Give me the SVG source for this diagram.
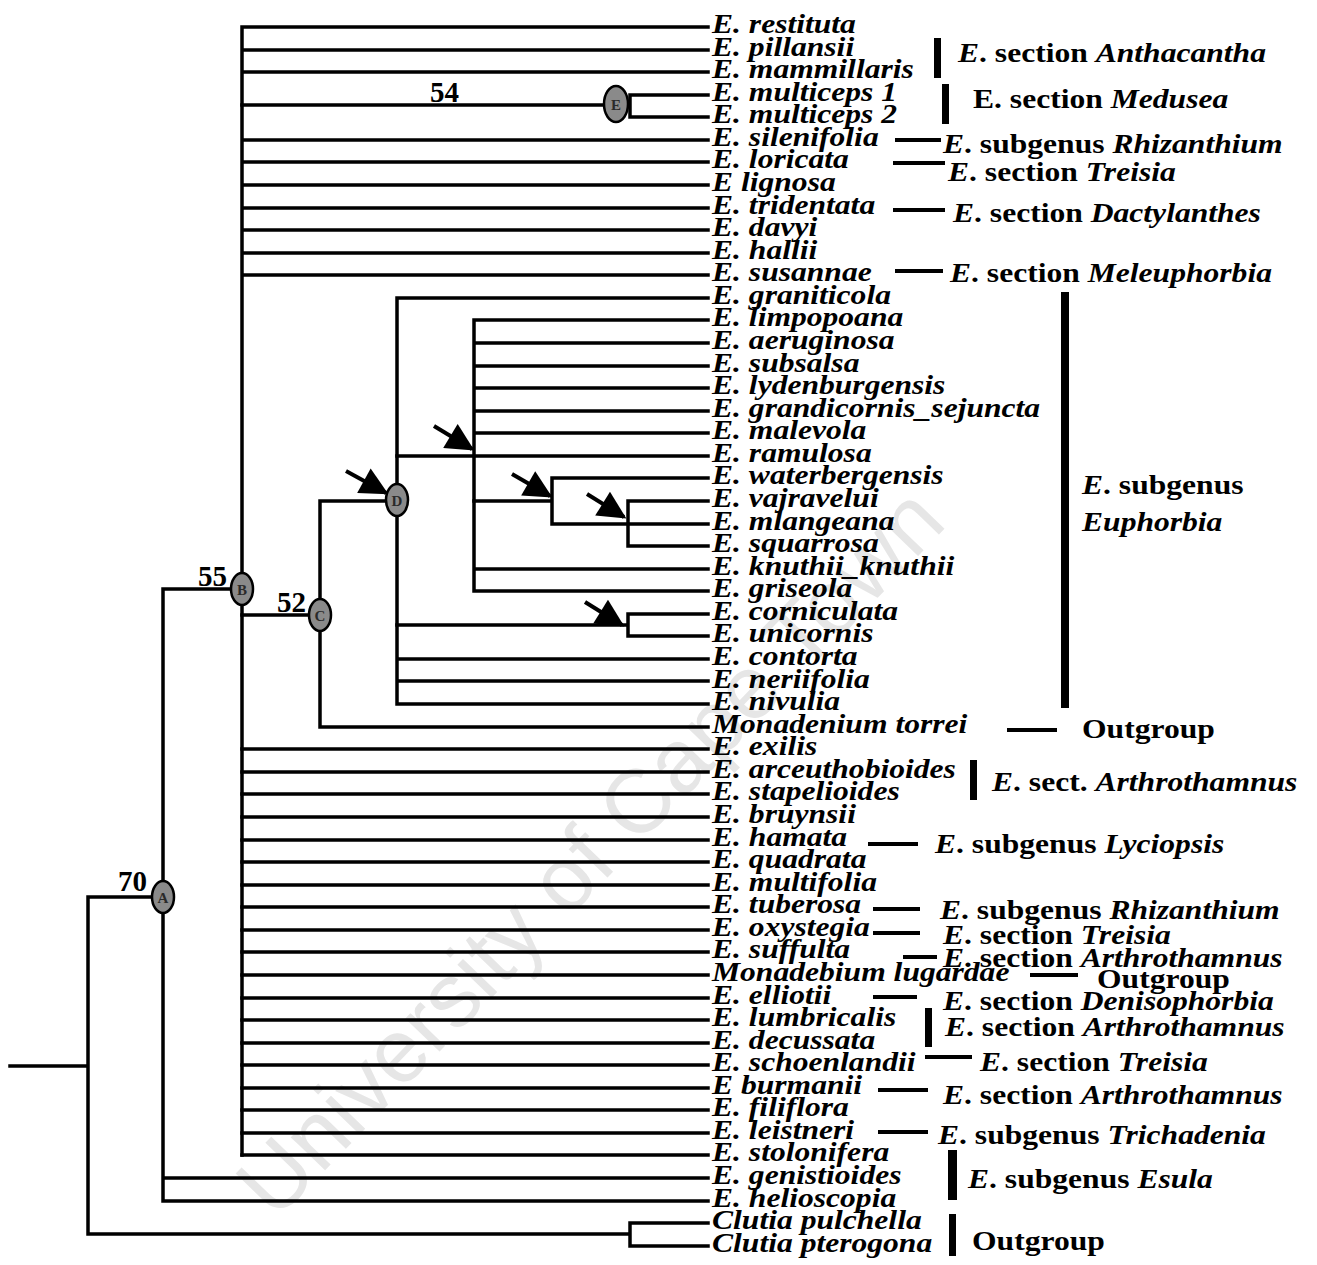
<svg xmlns="http://www.w3.org/2000/svg" width="1317" height="1265" viewBox="0 0 1317 1265">
<style>
.ln{stroke:#000;stroke-width:3.5;fill:none;stroke-linecap:square}
.ar{stroke:#000;stroke-width:4;fill:none}
.br{fill:#000}
.leaf{font-family:"Liberation Serif","Times New Roman",serif;font-weight:bold;font-style:italic;font-size:27px;fill:#000}
.ann{font-family:"Liberation Serif","Times New Roman",serif;font-weight:bold;font-size:27px;fill:#000}
.it{font-style:italic}
.num{font-family:"Liberation Serif","Times New Roman",serif;font-weight:bold;font-size:29px;fill:#000}
.nd{fill:#8a8a8a;stroke:#000;stroke-width:2.5}
.ndl{font-family:"Liberation Serif",serif;font-weight:bold;font-size:15px;fill:#2a2a2a;text-anchor:middle}
.wm{font-family:"Liberation Sans",Arial,sans-serif;font-size:90px;fill:#e6e6e6;text-anchor:middle}
</style>
<defs>
<marker id="ah" viewBox="0 0 10 10" refX="9" refY="5" markerUnits="userSpaceOnUse" markerWidth="30" markerHeight="28" orient="auto">
<path d="M0,0 L10,5 L0,10 z" fill="#000"/>
</marker>
</defs>
<rect width="1317" height="1265" fill="#fff"/>
<text class="wm" transform="translate(612,873) rotate(-46)">University of Cape Town</text>

<g id="connectors">
<path class="ln" d="M10,1066 H88 M88,897 V1234 M88,897 H163 M88,1234 H630 M630,1223 V1246 M630,1223 H708 M630,1246 H708"/>
<path class="ln" d="M163,589 V1201 M163,589 H242 M163,1178 H708 M163,1201 H708"/>
<path class="ln" d="M242,27 V1155 M242,27 H708 M242,50 H708 M242,72 H708 M242,140 H708 M242,162 H708 M242,185 H708 M242,208 H708 M242,230 H708 M242,253 H708 M242,275 H708"/>
<path class="ln" d="M242,105 H617 M617,105 H630 M630,95 V117 M630,95 H708 M630,117 H708"/>
<path class="ln" d="M242,749 H708 M242,772 H708 M242,794 H708 M242,817 H708 M242,840 H708 M242,862 H708 M242,885 H708 M242,907 H708 M242,930 H708 M242,952 H708 M242,975 H708 M242,998 H708 M242,1020 H708 M242,1043 H708 M242,1065 H708 M242,1088 H708 M242,1110 H708 M242,1133 H708 M242,1155 H708"/>
<path class="ln" d="M242,615 H320 M320,501 V727 M320,727 H708 M320,501 H397"/>
<path class="ln" d="M397,298 V704 M397,298 H708 M397,659 H708 M397,681 H708 M397,704 H708"/>
<path class="ln" d="M397,456 H474 M474,320 V591 M474,320 H708 M474,343 H708 M474,366 H708 M474,388 H708 M474,411 H708 M474,433 H708 M474,456 H708 M474,569 H708 M474,591 H708"/>
<path class="ln" d="M474,501 H552 M552,478 V524 M552,478 H708 M552,524 H708 M628,501 V546 M628,501 H708 M628,546 H708"/>
<path class="ln" d="M397,625 H628 M628,614 V636 M628,614 H708 M628,636 H708"/>
</g>

<g id="arrows">
<line class="ar" x1="346" y1="471" x2="386" y2="493" marker-end="url(#ah)"/>
<line class="ar" x1="434" y1="426" x2="472" y2="449" marker-end="url(#ah)"/>
<line class="ar" x1="512" y1="474" x2="550" y2="496" marker-end="url(#ah)"/>
<line class="ar" x1="587" y1="494" x2="624" y2="517" marker-end="url(#ah)"/>
<line class="ar" x1="585" y1="602" x2="622" y2="625" marker-end="url(#ah)"/>
</g>

<g id="node-A"><ellipse class="nd" cx="163" cy="897" rx="11" ry="16"/><text class="ndl" x="163" y="903">A</text><text class="num" x="147" y="891" text-anchor="end">70</text></g>
<g id="node-B"><ellipse class="nd" cx="242" cy="589" rx="11" ry="16"/><text class="ndl" x="242" y="595">B</text><text class="num" x="227" y="586" text-anchor="end">55</text></g>
<g id="node-C"><ellipse class="nd" cx="320" cy="615" rx="11" ry="16"/><text class="ndl" x="320" y="621">C</text><text class="num" x="306" y="612" text-anchor="end">52</text></g>
<g id="node-D"><ellipse class="nd" cx="397" cy="500" rx="11" ry="16"/><text class="ndl" x="397" y="506">D</text></g>
<g id="node-E"><ellipse class="nd" cx="616" cy="104" rx="12" ry="18"/><text class="ndl" x="616" y="110">E</text><text class="num" x="430" y="102">54</text></g>

<g id="leaves">
<g id="leaf-restituta"><text class="leaf" transform="translate(712,33) scale(1.17,1)">E. restituta</text></g>
<g id="leaf-pillansii"><text class="leaf" transform="translate(712,56) scale(1.17,1)">E. pillansii</text></g>
<g id="leaf-mammillaris"><text class="leaf" transform="translate(712,78) scale(1.17,1)">E. mammillaris</text></g>
<g id="leaf-multiceps1"><text class="leaf" transform="translate(712,101) scale(1.17,1)">E. multiceps 1</text></g>
<g id="leaf-multiceps2"><text class="leaf" transform="translate(712,123) scale(1.17,1)">E. multiceps 2</text></g>
<g id="leaf-silenifolia"><text class="leaf" transform="translate(712,146) scale(1.17,1)">E. silenifolia</text></g>
<g id="leaf-loricata"><text class="leaf" transform="translate(712,168) scale(1.17,1)">E. loricata</text></g>
<g id="leaf-lignosa"><text class="leaf" transform="translate(712,191) scale(1.17,1)">E lignosa</text></g>
<g id="leaf-tridentata"><text class="leaf" transform="translate(712,214) scale(1.17,1)">E. tridentata</text></g>
<g id="leaf-davyi"><text class="leaf" transform="translate(712,236) scale(1.17,1)">E. davyi</text></g>
<g id="leaf-hallii"><text class="leaf" transform="translate(712,259) scale(1.17,1)">E. hallii</text></g>
<g id="leaf-susannae"><text class="leaf" transform="translate(712,281) scale(1.17,1)">E. susannae</text></g>
<g id="leaf-graniticola"><text class="leaf" transform="translate(712,304) scale(1.17,1)">E. graniticola</text></g>
<g id="leaf-limpopoana"><text class="leaf" transform="translate(712,326) scale(1.17,1)">E. limpopoana</text></g>
<g id="leaf-aeruginosa"><text class="leaf" transform="translate(712,349) scale(1.17,1)">E. aeruginosa</text></g>
<g id="leaf-subsalsa"><text class="leaf" transform="translate(712,372) scale(1.17,1)">E. subsalsa</text></g>
<g id="leaf-lydenburgensis"><text class="leaf" transform="translate(712,394) scale(1.17,1)">E. lydenburgensis</text></g>
<g id="leaf-grandicornis"><text class="leaf" transform="translate(712,417) scale(1.17,1)">E. grandicornis_sejuncta</text></g>
<g id="leaf-malevola"><text class="leaf" transform="translate(712,439) scale(1.17,1)">E. malevola</text></g>
<g id="leaf-ramulosa"><text class="leaf" transform="translate(712,462) scale(1.17,1)">E. ramulosa</text></g>
<g id="leaf-waterbergensis"><text class="leaf" transform="translate(712,484) scale(1.17,1)">E. waterbergensis</text></g>
<g id="leaf-vajravelui"><text class="leaf" transform="translate(712,507) scale(1.17,1)">E. vajravelui</text></g>
<g id="leaf-mlangeana"><text class="leaf" transform="translate(712,530) scale(1.17,1)">E. mlangeana</text></g>
<g id="leaf-squarrosa"><text class="leaf" transform="translate(712,552) scale(1.17,1)">E. squarrosa</text></g>
<g id="leaf-knuthii"><text class="leaf" transform="translate(712,575) scale(1.17,1)">E. knuthii_knuthii</text></g>
<g id="leaf-griseola"><text class="leaf" transform="translate(712,597) scale(1.17,1)">E. griseola</text></g>
<g id="leaf-corniculata"><text class="leaf" transform="translate(712,620) scale(1.17,1)">E. corniculata</text></g>
<g id="leaf-unicornis"><text class="leaf" transform="translate(712,642) scale(1.17,1)">E. unicornis</text></g>
<g id="leaf-contorta"><text class="leaf" transform="translate(712,665) scale(1.17,1)">E. contorta</text></g>
<g id="leaf-neriifolia"><text class="leaf" transform="translate(712,688) scale(1.17,1)">E. neriifolia</text></g>
<g id="leaf-nivulia"><text class="leaf" transform="translate(712,710) scale(1.17,1)">E. nivulia</text></g>
<g id="leaf-monadenium-torrei"><text class="leaf" transform="translate(712,733) scale(1.17,1)">Monadenium torrei</text></g>
<g id="leaf-exilis"><text class="leaf" transform="translate(712,755) scale(1.17,1)">E. exilis</text></g>
<g id="leaf-arceuthobioides"><text class="leaf" transform="translate(712,778) scale(1.17,1)">E. arceuthobioides</text></g>
<g id="leaf-stapelioides"><text class="leaf" transform="translate(712,800) scale(1.17,1)">E. stapelioides</text></g>
<g id="leaf-bruynsii"><text class="leaf" transform="translate(712,823) scale(1.17,1)">E. bruynsii</text></g>
<g id="leaf-hamata"><text class="leaf" transform="translate(712,846) scale(1.17,1)">E. hamata</text></g>
<g id="leaf-quadrata"><text class="leaf" transform="translate(712,868) scale(1.17,1)">E. quadrata</text></g>
<g id="leaf-multifolia"><text class="leaf" transform="translate(712,891) scale(1.17,1)">E. multifolia</text></g>
<g id="leaf-tuberosa"><text class="leaf" transform="translate(712,913) scale(1.17,1)">E. tuberosa</text></g>
<g id="leaf-oxystegia"><text class="leaf" transform="translate(712,936) scale(1.17,1)">E. oxystegia</text></g>
<g id="leaf-suffulta"><text class="leaf" transform="translate(712,958) scale(1.17,1)">E. suffulta</text></g>
<g id="leaf-monadebium-lugardae"><text class="leaf" transform="translate(712,981) scale(1.17,1)">Monadebium lugardae</text></g>
<g id="leaf-elliotii"><text class="leaf" transform="translate(712,1004) scale(1.17,1)">E. elliotii</text></g>
<g id="leaf-lumbricalis"><text class="leaf" transform="translate(712,1026) scale(1.17,1)">E. lumbricalis</text></g>
<g id="leaf-decussata"><text class="leaf" transform="translate(712,1049) scale(1.17,1)">E. decussata</text></g>
<g id="leaf-schoenlandii"><text class="leaf" transform="translate(712,1071) scale(1.17,1)">E. schoenlandii</text></g>
<g id="leaf-burmanii"><text class="leaf" transform="translate(712,1094) scale(1.17,1)">E burmanii</text></g>
<g id="leaf-filiflora"><text class="leaf" transform="translate(712,1116) scale(1.17,1)">E. filiflora</text></g>
<g id="leaf-leistneri"><text class="leaf" transform="translate(712,1139) scale(1.17,1)">E. leistneri</text></g>
<g id="leaf-stolonifera"><text class="leaf" transform="translate(712,1161) scale(1.17,1)">E. stolonifera</text></g>
<g id="leaf-genistioides"><text class="leaf" transform="translate(712,1184) scale(1.17,1)">E. genistioides</text></g>
<g id="leaf-helioscopia"><text class="leaf" transform="translate(712,1207) scale(1.17,1)">E. helioscopia</text></g>
<g id="leaf-clutia-pulchella"><text class="leaf" transform="translate(712,1229) scale(1.17,1)">Clutia pulchella</text></g>
<g id="leaf-clutia-pterogona"><text class="leaf" transform="translate(712,1252) scale(1.17,1)">Clutia pterogona</text></g>
</g>

<g id="annotations">
<rect class="br" x="934" y="38" width="7" height="40"/>
<text class="ann" transform="translate(958,62) scale(1.17,1)"><tspan class="it">E</tspan>. section <tspan class="it">Anthacantha</tspan></text>
<rect class="br" x="942" y="84" width="7" height="40"/>
<text class="ann" transform="translate(973,108) scale(1.17,1)">E. section <tspan class="it">Medusea</tspan></text>
<rect class="br" x="895" y="138" width="46" height="4"/>
<text class="ann" transform="translate(943,153) scale(1.17,1)"><tspan class="it">E</tspan>. subgenus <tspan class="it">Rhizanthium</tspan></text>
<rect class="br" x="893" y="161" width="52" height="4"/>
<text class="ann" transform="translate(948,181) scale(1.17,1)"><tspan class="it">E</tspan>. section <tspan class="it">Treisia</tspan></text>
<rect class="br" x="893" y="208" width="52" height="4"/>
<text class="ann" transform="translate(953,222) scale(1.17,1)"><tspan class="it">E</tspan>. section <tspan class="it">Dactylanthes</tspan></text>
<rect class="br" x="895" y="269" width="48" height="4"/>
<text class="ann" transform="translate(950,282) scale(1.17,1)"><tspan class="it">E</tspan>. section <tspan class="it">Meleuphorbia</tspan></text>
<rect class="br" x="1061" y="292" width="8" height="416"/>
<text class="ann" transform="translate(1082,494) scale(1.17,1)"><tspan class="it">E</tspan>. subgenus</text>
<text class="ann it" transform="translate(1082,531) scale(1.17,1)">Euphorbia</text>
<rect class="br" x="1007" y="728" width="50" height="4"/>
<text class="ann" transform="translate(1082,738) scale(1.17,1)">Outgroup</text>
<rect class="br" x="970" y="760" width="7" height="40"/>
<text class="ann" transform="translate(992,791) scale(1.17,1)"><tspan class="it">E</tspan>. sect. <tspan class="it">Arthrothamnus</tspan></text>
<rect class="br" x="868" y="842" width="50" height="4"/>
<text class="ann" transform="translate(935,853) scale(1.17,1)"><tspan class="it">E</tspan>. subgenus <tspan class="it">Lyciopsis</tspan></text>
<rect class="br" x="873" y="907" width="47" height="4"/>
<text class="ann" transform="translate(940,919) scale(1.17,1)"><tspan class="it">E</tspan>. subgenus <tspan class="it">Rhizanthium</tspan></text>
<rect class="br" x="873" y="931" width="47" height="4"/>
<text class="ann" transform="translate(943,944) scale(1.17,1)"><tspan class="it">E</tspan>. section <tspan class="it">Treisia</tspan></text>
<rect class="br" x="903" y="955" width="34" height="4"/>
<text class="ann" transform="translate(943,967) scale(1.17,1)"><tspan class="it">E</tspan>. section <tspan class="it">Arthrothamnus</tspan></text>
<rect class="br" x="1030" y="973" width="48" height="4"/>
<text class="ann" transform="translate(1097,988) scale(1.17,1)">Outgroup</text>
<rect class="br" x="873" y="995" width="44" height="4"/>
<text class="ann" transform="translate(943,1010) scale(1.17,1)"><tspan class="it">E</tspan>. section <tspan class="it">Denisophorbia</tspan></text>
<rect class="br" x="925" y="1008" width="7" height="39"/>
<text class="ann" transform="translate(945,1036) scale(1.17,1)"><tspan class="it">E</tspan>. section <tspan class="it">Arthrothamnus</tspan></text>
<rect class="br" x="925" y="1055" width="47" height="4"/>
<text class="ann" transform="translate(980,1071) scale(1.17,1)"><tspan class="it">E</tspan>. section <tspan class="it">Treisia</tspan></text>
<rect class="br" x="878" y="1088" width="50" height="4"/>
<text class="ann" transform="translate(943,1104) scale(1.17,1)"><tspan class="it">E</tspan>. section <tspan class="it">Arthrothamnus</tspan></text>
<rect class="br" x="878" y="1130" width="50" height="4"/>
<text class="ann" transform="translate(938,1144) scale(1.17,1)"><tspan class="it">E</tspan>. subgenus <tspan class="it">Trichadenia</tspan></text>
<rect class="br" x="948" y="1150" width="9" height="50"/>
<text class="ann" transform="translate(968,1188) scale(1.17,1)"><tspan class="it">E</tspan>. subgenus <tspan class="it">Esula</tspan></text>
<rect class="br" x="949" y="1214" width="7" height="42"/>
<text class="ann" transform="translate(972,1250) scale(1.17,1)">Outgroup</text>
</g>
</svg>
